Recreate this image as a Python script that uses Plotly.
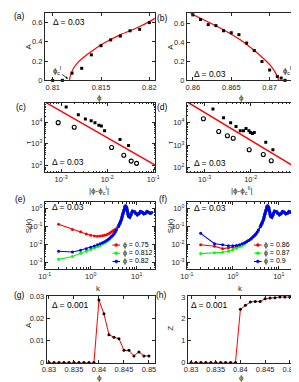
import plotly.graph_objects as go

W, H = 299, 382
FONT = "Liberation Sans, Arial, sans-serif"
AXC = "#262626"
RED, GREEN, BLUE = "#ff0000", "#00ff00", "#0000ff"

# ---------------- data ----------------
# (a)
phi_a = [0.810, 0.811, 0.812, 0.813, 0.814, 0.815, 0.816, 0.817, 0.818, 0.819, 0.820]
A_a = [0, 0, 0.075, 0.125, 0.265, 0.36, 0.42, 0.46, 0.515, 0.53, 0.6]
fit_a_phi = [0.81173, 0.81179, 0.81193, 0.81215, 0.81255, 0.81305, 0.81371, 0.81454,
             0.81536, 0.8162, 0.81702, 0.81801, 0.81901, 0.82, 0.82057]
fit_a_A = [0, 0.034, 0.075, 0.125, 0.18, 0.227, 0.278, 0.339, 0.39, 0.434, 0.475,
           0.515, 0.559, 0.61, 0.644]
# (b)
phi_b = [0.860, 0.861, 0.862, 0.863, 0.864, 0.865, 0.866, 0.867, 0.868, 0.869, 0.870,
         0.871, 0.8715, 0.872, 0.873]
A_b = [0.685, 0.637, 0.583, 0.573, 0.519, 0.498, 0.478, 0.39, 0.312, 0.197, 0.108,
       0.04, 0.024, 0, 0]
fit_b_phi = [0.8597, 0.862, 0.86409, 0.86618, 0.86784, 0.86909, 0.87013, 0.87084, 0.87118]
fit_b_A = [0.70, 0.61, 0.525, 0.424, 0.322, 0.237, 0.153, 0.068, 0]
# (c)
c_sq_x = [1.29e-3, 2.37e-3, 3.37e-3, 4.5e-3, 5.45e-3, 6.6e-3, 7.5e-3, 8.8e-3, 0.019, 0.0292]
c_sq_y = [5.46e4, 2.34e4, 1.47e4, 1.23e4, 1.0e4, 7.5e3, 7.0e3, 4.1e3, 1.58e3, 832]
c_ci_x = [8.66e-4, 1.93e-3, 0.0125, 0.023, 0.0332, 0.0436]
c_ci_y = [1.0e4, 6.07e3, 676, 288, 153, 120]
c_fit_x = [4.43e-4, 0.110]
c_fit_y = [9.5e4, 100]
# (d)
d_sq_x = [1.52e-3, 2.58e-3, 3.68e-3, 4.82e-3, 5.95e-3, 6.98e-3, 7.94e-3, 9.17e-3, 9.9e-3,
          0.0109, 0.012, 0.0213, 0.0304]
d_sq_y = [4.06e4, 1.65e4, 1.0e4, 6.7e3, 4.3e3, 4.3e3, 5.5e3, 4.3e3, 3.67e3, 3.31e3,
          3.67e3, 1.35e3, 625]
d_ci_x = [9.44e-4, 2.03e-3, 3.13e-3, 4.18e-3, 9.3e-3, 0.0188, 0.028]
d_ci_y = [1.49e4, 4.06e3, 2.62e3, 2.01e3, 625, 379, 201]
d_fit_x = [4.07e-4, 0.101]
d_fit_y = [8.7e4, 93]
# (e)
k_low_e = [0.2, 0.4, 0.6, 0.8, 1.0, 1.2, 1.4, 1.6, 1.8, 2.0, 2.2, 2.4, 2.6, 2.8, 3.0, 3.2,
           3.4, 3.6]
S_e_075 = [0.135, 0.069, 0.051, 0.038, 0.032, 0.0296, 0.0283, 0.0296, 0.0308, 0.0322,
           0.035, 0.038, 0.043, 0.049, 0.056, 0.062, 0.068, 0.076]
S_e_0812 = [0.00142, 0.00207, 0.00316, 0.0041, 0.00503, 0.0062, 0.00735, 0.0087, 0.0103,
            0.0117, 0.0138, 0.0164, 0.0202, 0.025, 0.0296, 0.0365, 0.047, 0.0605]
S_e_082 = [0.0041, 0.0037, 0.0046, 0.0057, 0.0068, 0.0080, 0.0095, 0.0107, 0.0122,
           0.0138, 0.0164, 0.0194, 0.023, 0.0272, 0.0322, 0.0397, 0.049, 0.063]
# shared large-k part of S(k)
k_tail = [3.95, 4.3, 4.65, 4.95, 5.2, 5.45, 5.7, 6.0, 6.3, 6.6, 7.05, 7.5, 8.1, 8.8, 9.5,
          10.3, 11.2, 12.1, 13.1, 14.2, 15.4, 16.7, 18.1, 19.6, 21.2]
S_tail = [0.096, 0.147, 0.25, 0.48, 0.79, 1.32, 1.49, 1.2, 0.70, 0.39, 0.34, 0.46, 0.73,
          0.70, 0.54, 0.46, 0.54, 0.70, 0.64, 0.52, 0.56, 0.70, 0.64, 0.56, 0.61]
# (f)
k_low_f = [0.2, 0.4, 0.6, 0.8, 1.0, 1.2, 1.4, 1.6, 1.8]
S_f_086 = [0.0095, 0.0077, 0.0057, 0.0062, 0.0068, 0.0073, 0.0083, 0.0095, 0.0107]
S_f_087 = [0.0030, 0.0033, 0.0036, 0.0041, 0.0048, 0.0060, 0.0073, 0.0087, 0.0103]
S_f_09 = [0.0414, 0.0107, 0.0095, 0.0083, 0.0083, 0.0087, 0.0095, 0.0107, 0.0122]
k_mid_f = [2.0, 2.2, 2.4, 2.6, 2.8, 3.0, 3.2, 3.4, 3.6]
S_mid_f = [0.0138, 0.0164, 0.0194, 0.023, 0.0272, 0.0322, 0.0397, 0.049, 0.063]
# (g), (h)
phi_gh = [0.830, 0.831, 0.832, 0.833, 0.834, 0.835, 0.836, 0.837, 0.838, 0.839, 0.840,
          0.841, 0.842, 0.843, 0.844, 0.845, 0.846, 0.847, 0.848, 0.849, 0.850]
A_g = [0, 0, 0, 0, 0, 0, 0, 0, 0, 0, 0.0282, 0.022, 0.0126, 0.0114, 0.0108, 0.0055,
       0.0055, 0.003, 0.0048, 0.003, 0.003]
Z_h = [0, 0, 0, 0, 0, 0, 0, 0, 0, 0, 2.44, 2.62, 2.77, 2.8, 2.8, 2.92, 2.95, 2.97, 3.0,
       3.0, 3.0]

legend_e = ["ϕ = 0.75", "ϕ = 0.812", "ϕ = 0.82"]
legend_f = ["ϕ = 0.86", "ϕ = 0.87", "ϕ = 0.9"]

# ---------------- layout helpers ----------------
PANELS = {  # px: x0, x1, y0(top), y1(bottom)
    1: (31, 146, 1, 70), 2: (179, 294, 1, 70),
    3: (31, 146, 93, 164), 4: (179, 294, 93, 164),
    5: (31, 146, 195, 263), 6: (179, 294, 195, 263),
    7: (33, 146, 291, 359), 8: (180, 292, 291, 359),
}
TICKSIZE = 7.5
TXT = 8


def px(x):
    return x / W


def py(y):
    return 1 - y / H


def minor_log(e0, e1):
    return [m * 10.0 ** e for e in range(e0, e1) for m in range(2, 10)]


def axis(domain, rng, tv, tt, typ="linear", minor=None, anchor=None):
    d = dict(domain=domain, range=rng, type=typ, tickmode="array", tickvals=tv,
             ticktext=tt, showline=True, linecolor=AXC, linewidth=0.8,
             mirror="allticks", ticks="inside", ticklen=3, tickwidth=0.8,
             tickcolor=AXC, tickfont=dict(family=FONT, size=TICKSIZE, color=AXC),
             showgrid=False, zeroline=False, anchor=anchor)
    if minor is not None:
        d["minor"] = dict(tickmode="array", tickvals=minor, ticks="inside",
                          ticklen=1.6, tickwidth=0.6, tickcolor=AXC, showgrid=False)
    return d


def sup(e):
    return "10<sup>%s</sup>" % e


layout = dict(width=W, height=H, margin=dict(l=0, r=0, t=0, b=0),
              paper_bgcolor="white", plot_bgcolor="white", showlegend=False,
              font=dict(family=FONT, color=AXC, size=TXT))

xspec = {
    1: ([0.80918, 0.8206], [0.81, 0.815, 0.82], ["0.81", "0.815", "0.82"], "linear", None),
    2: ([0.85921, 0.87359], [0.86, 0.865, 0.87], ["0.86", "0.865", "0.87"], "linear", None),
    3: ([-3.354, -0.958], [1e-3, 1e-2, 1e-1], [sup("-3"), sup("-2"), sup("-1")], "log",
        minor_log(-4, -1)),
    4: ([-3.385, -0.99], [1e-3, 1e-2, 1e-1], [sup("-3"), sup("-2"), sup("-1")], "log",
        minor_log(-4, -1)),
    5: ([-1, 1.4], [0.1, 1, 10], [sup("-1"), sup("0"), sup("1")], "log", minor_log(-1, 2)),
    6: ([-1, 1.4], [0.1, 1, 10], [sup("-1"), sup("0"), sup("1")], "log", minor_log(-1, 2)),
    7: ([0.82954, 0.85124], [0.83, 0.835, 0.84, 0.845, 0.85],
        ["0.83", "0.835", "0.84", "0.845", "0.85"], "linear", None),
    8: ([0.82934, 0.85111], [0.83, 0.835, 0.84, 0.845, 0.85],
        ["0.83", "0.835", "0.84", "0.845", "0.85"], "linear", None),
}
yspec = {
    1: ([0, 0.70], [0, 0.2, 0.4, 0.6], ["0", "0.2", "0.4", "0.6"], "linear", None),
    2: ([0, 0.705], [0, 0.2, 0.4, 0.6], ["0", "0.2", "0.4", "0.6"], "linear", None),
    3: ([1.664, 4.935], [1e2, 1e3, 1e4], [sup("2"), sup("3"), sup("4")], "log",
        minor_log(1, 5)),
    4: ([1.796, 4.883], [1e2, 1e3, 1e4], [sup("2"), sup("3"), sup("4")], "log",
        minor_log(1, 5)),
    5: ([-3.38, 0.36], [1e-3, 1e-2, 1e-1, 1], [sup("-3"), sup("-2"), sup("-1"), sup("0")],
        "log", minor_log(-4, 1)),
    6: ([-3.38, 0.36], [1e-3, 1e-2, 1e-1, 1], [sup("-3"), sup("-2"), sup("-1"), sup("0")],
        "log", minor_log(-4, 1)),
    7: ([0, 0.03], [0, 0.01, 0.02, 0.03], ["0", "0.01", "0.02", "0.03"], "linear", None),
    8: ([0, 3.04], [0, 1, 2, 3], ["0", "1", "2", "3"], "linear", None),
}

for i, (x0, x1, y0, y1) in PANELS.items():
    sfx = "" if i == 1 else str(i)
    r, tv, tt, typ, mn = xspec[i]
    layout["xaxis" + sfx] = axis([px(x0), px(x1)], r, tv, tt, typ, mn, anchor="y" + sfx)
    r, tv, tt, typ, mn = yspec[i]
    layout["yaxis" + sfx] = axis([py(y1), py(y0)], r, tv, tt, typ, mn, anchor="x" + sfx)

fig = go.Figure(layout=layout)


def ref(i):
    s = "" if i == 1 else str(i)
    return dict(xaxis="x" + s, yaxis="y" + s)


# (a)
fig.add_trace(go.Scatter(x=fit_a_phi, y=fit_a_A, mode="lines",
                         line=dict(color=RED, width=1.2, shape="spline", smoothing=0.5), **ref(1)))
fig.add_trace(go.Scatter(x=phi_a, y=A_a, mode="markers", cliponaxis=False,
                         marker=dict(symbol="square", size=3, color="black"), **ref(1)))
# (b)
fig.add_trace(go.Scatter(x=fit_b_phi, y=fit_b_A, mode="lines",
                         line=dict(color=RED, width=1.2, shape="spline", smoothing=0.5), **ref(2)))
fig.add_trace(go.Scatter(x=phi_b, y=A_b, mode="markers", cliponaxis=False,
                         marker=dict(symbol="square", size=3, color="black"), **ref(2)))
# (c), (d)
for i, (sx, sy, cx, cy, fx, fy) in {
        3: (c_sq_x, c_sq_y, c_ci_x, c_ci_y, c_fit_x, c_fit_y),
        4: (d_sq_x, d_sq_y, d_ci_x, d_ci_y, d_fit_x, d_fit_y)}.items():
    fig.add_trace(go.Scatter(x=fx, y=fy, mode="lines", line=dict(color=RED, width=1.4), **ref(i)))
    fig.add_trace(go.Scatter(x=sx, y=sy, mode="markers",
                             marker=dict(symbol="square", size=3, color="black"), **ref(i)))
    fig.add_trace(go.Scatter(x=cx, y=cy, mode="markers",
                             marker=dict(symbol="circle-open", size=4, color="black",
                                         line=dict(width=1.1)), **ref(i)))

# (e)
curves_e = [(S_e_075, RED), (S_e_0812, GREEN), (S_e_082, BLUE)]
for S, col in curves_e:
    fig.add_trace(go.Scatter(x=k_low_e + k_tail, y=S + S_tail, mode="lines+markers",
                             line=dict(color=col, width=1.1),
                             marker=dict(size=3, color=col), **ref(5)))
for S, col in curves_e:
    fig.add_trace(go.Scatter(x=k_tail, y=S_tail, mode="lines",
                             line=dict(color=col, width=3), **ref(5)))
# (f)
curves_f = [(S_f_086, RED), (S_f_087, GREEN), (S_f_09, BLUE)]
for S, col in curves_f:
    fig.add_trace(go.Scatter(x=k_low_f + k_mid_f + k_tail, y=S + S_mid_f + S_tail,
                             mode="lines+markers", line=dict(color=col, width=1.1),
                             marker=dict(size=3, color=col), **ref(6)))
for S, col in curves_f:
    fig.add_trace(go.Scatter(x=k_tail, y=S_tail, mode="lines",
                             line=dict(color=col, width=3), **ref(6)))
# (g), (h)
fig.add_trace(go.Scatter(x=phi_gh, y=A_g, mode="lines+markers", cliponaxis=False,
                         line=dict(color=RED, width=1),
                         marker=dict(size=3, color="black"), **ref(7)))
fig.add_trace(go.Scatter(x=phi_gh, y=Z_h, mode="lines+markers", cliponaxis=False,
                         line=dict(color=RED, width=1),
                         marker=dict(size=3, color="black"), **ref(8)))

# ---------------- text ----------------
anns = []


def ann(text, x, y, size=TXT, angle=0, xanchor="center", color="black"):
    anns.append(dict(text=text, x=px(x), y=py(y), xref="paper", yref="paper",
                     showarrow=False, xanchor=xanchor, yanchor="middle",
                     textangle=angle, font=dict(family=FONT, size=size, color=color)))


# panel labels
for t, x, y in [("(a)", 5, 4.5), ("(b)", 154, 6), ("(c)", 6, 97.5), ("(d)", 154, 97.5),
                ("(e)", 6, 192), ("(f)", 154, 192), ("(g)", 5, 290), ("(h)", 153, 290)]:
    ann(t, x, y, size=8.5)
# Delta labels
for t, x, y in [("Δ = 0.03", 37, 10), ("Δ = 0.03", 184, 63.5), ("Δ = 0.03", 36, 154),
                ("Δ = 0.03", 184, 155), ("Δ = 0.03", 36, 200), ("Δ = 0.03", 184, 201),
                ("Δ = 0.001", 36, 300), ("Δ = 0.001", 181, 300)]:
    ann(t, x, y, size=8.5, xanchor="left")
# axis titles
for t, x, y, a in [("A", 14, 35, -90), ("ϕ", 88, 88, 0), ("A", 162, 35, -90), ("ϕ", 236, 88, 0),
                   ("τ", 14, 133, -90), ("|ϕ-ϕ<sub>c</sub><sup>I</sup>|", 87, 183, 0),
                   ("τ", 162, 133, -90), ("|ϕ-ϕ<sub>c</sub><sup>II</sup>|", 237, 183, 0),
                   ("S(k)", 14, 219, -90), ("k", 87, 283, 0),
                   ("S(k)", 162, 219, -90), ("k", 235, 283, 0),
                   ("A", 14, 320, -90), ("ϕ", 88, 374, 0),
                   ("Z", 162, 324, -90), ("ϕ", 236, 374, 0)]:
    ann(t, x, y, size=8, angle=a, color=AXC)
# critical point labels
anns.append(dict(text="ϕ<sub>c</sub><sup>I</sup>", x=px(56), y=py(69), xref="paper",
                 yref="paper", ax=-12, ay=-9, showarrow=True, arrowhead=2, arrowsize=0.6,
                 arrowwidth=0.8, arrowcolor="black", standoff=1,
                 font=dict(family=FONT, size=7.5, color="black")))
ann("ϕ<sub>c</sub><sup>II</sup>", 284, 60, size=7.5)

# legends (e), (f)
shapes = []
rows = [238.7, 247, 255.5]
for labels, lx in [(legend_e, 101.5), (legend_f, 249)]:
    for lab, yy, col in zip(labels, rows, [RED, GREEN, BLUE]):
        shapes.append(dict(type="line", xref="paper", yref="paper", x0=px(lx), x1=px(lx + 8),
                           y0=py(yy), y1=py(yy), line=dict(color=col, width=1.1)))
        shapes.append(dict(type="circle", xref="paper", yref="paper", x0=px(lx + 2.5),
                           x1=px(lx + 5.5), y0=py(yy + 1.5), y1=py(yy - 1.5),
                           fillcolor=col, line=dict(color=col, width=0.5)))
        ann(lab, lx + 8.5, yy, size=7, xanchor="left")

fig.update_layout(annotations=anns, shapes=shapes)
fig.write_html("out.html")
